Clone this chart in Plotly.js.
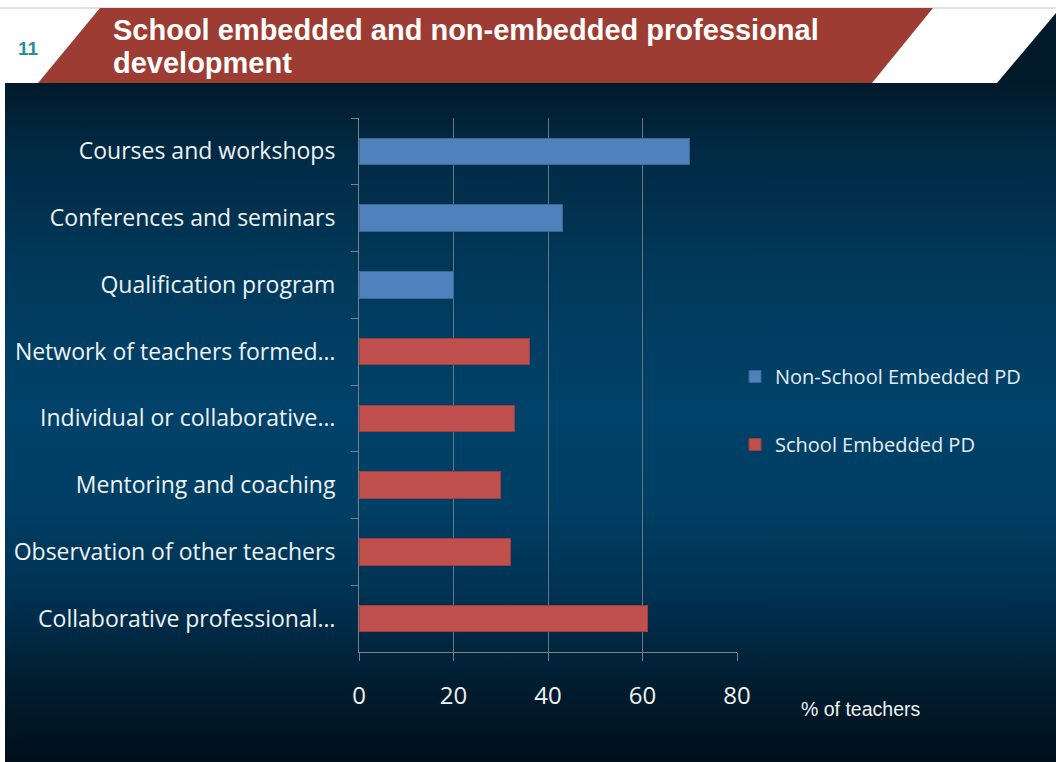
<!DOCTYPE html>
<html><head><meta charset="utf-8">
<script src="https://cdn.plot.ly/plotly-3.0.1.min.js"></script>
<style>
html,body{margin:0;padding:0;background:#ffffff;}
#wrap{position:relative;width:1056px;height:762px;overflow:hidden;background:#ffffff;}
#bg{position:absolute;left:5px;top:83px;width:1051px;height:679px;
background:linear-gradient(to bottom,#011a2a 0%,#012a44 10%,#003a5c 30%,#01426a 48%,#003f64 62%,#003151 76%,#011e31 88%,#010f1a 100%);}
#tri{position:absolute;left:997px;top:13px;width:59px;height:70px;background:#011a2a;clip-path:polygon(0 100%,100% 0,100% 100%);}
#chart{position:absolute;left:0;top:0;width:1056px;height:762px;}
</style></head>
<body><div id="wrap"><div id="bg"></div><div id="tri"></div><div id="chart"></div></div>
<script>
const categories = [
  "Courses and workshops",
  "Conferences and seminars",
  "Qualification program",
  "Network of teachers formed…",
  "Individual or collaborative…",
  "Mentoring and coaching",
  "Observation of other teachers",
  "Collaborative professional…"
];
const nonSchoolValues = [70, 43, 20, null, null, null, null, null];
const schoolValues = [null, null, null, 36, 33, 30, 32, 61];
const seriesNames = ["Non-School Embedded PD", "School Embedded PD"];
const xTicks = [0, 20, 40, 60, 80];
const titleLines = ["School embedded and non-embedded professional", "development"];

const W = 1056, H = 762;
const px = x => x / W, py = y => 1 - y / H;
const labelFont = "'Open Sans', 'Noto Sans', sans-serif";
const titleFont = {family: "Arial, 'Liberation Sans', sans-serif", size: 29, color: "#ffffff"};

const traces = [
  {type: "bar", orientation: "h", name: seriesNames[0], y: categories, x: nonSchoolValues,
   marker: {color: "#4f81bd", line: {color: "#3d6796", width: 1}}, legendgroup: "a", hoverinfo: "x+y"},
  {type: "bar", orientation: "h", name: seriesNames[1], y: categories, x: schoolValues,
   marker: {color: "#c0504d", line: {color: "#9c3e3c", width: 1}}, legendgroup: "b", hoverinfo: "x+y"}
];

const layout = {
  width: W, height: H,
  margin: {l: 0, r: 0, t: 0, b: 0},
  paper_bgcolor: "rgba(0,0,0,0)", plot_bgcolor: "rgba(0,0,0,0)",
  barmode: "stack", bargap: 0.6,
  showlegend: true,
  legend: {x: px(735), y: py(357), xanchor: "left", yanchor: "top", traceorder: "grouped",
    tracegroupgap: 39, font: {family: labelFont, size: 20, color: "#e6edf2"}, bgcolor: "rgba(0,0,0,0)"},
  xaxis: {domain: [px(359), px(737)], range: [0, 80], tickvals: xTicks, ticktext: xTicks.map(String),
    showgrid: true, gridcolor: "#6a757d", gridwidth: 1, zeroline: false,
    showline: true, linecolor: "#76818a", linewidth: 1,
    ticks: "outside", ticklen: 8, tickcolor: "#76818a",
    tickfont: {family: labelFont, size: 24, color: "#eef2f5"}, ticklabelstandoff: 14, automargin: false, fixedrange: true},
  yaxis: {domain: [py(652), py(118)], autorange: "reversed", type: "category",
    showgrid: false, zeroline: false, showline: true, linecolor: "#76818a", linewidth: 1,
    ticks: "outside", ticklen: 7, tickcolor: "#76818a", tickson: "boundaries",
    tickfont: {family: labelFont, size: 23, color: "#eef2f5"}, ticklabelstandoff: 18, automargin: false, fixedrange: true},
  shapes: [
    {type: "line", xref: "paper", yref: "paper", x0: 0, x1: 1, y0: py(8), y1: py(8), line: {color: "#c9c2c2", width: 1}},
    {type: "path", xref: "paper", yref: "paper",
     path: `M ${px(38)} ${py(83)} L ${px(100)} ${py(8)} L ${px(933)} ${py(8)} L ${px(872)} ${py(83)} Z`,
     fillcolor: "#9c3c33", line: {width: 0}}
  ],
  annotations: [
    {xref: "paper", yref: "paper", x: px(111), y: py(30), xanchor: "left", yanchor: "middle", align: "left",
     showarrow: false, text: "<b>" + titleLines[0] + "</b>", font: titleFont},
    {xref: "paper", yref: "paper", x: px(111), y: py(63), xanchor: "left", yanchor: "middle", align: "left",
     showarrow: false, text: "<b>" + titleLines[1] + "</b>", font: titleFont},
    {xref: "paper", yref: "paper", x: px(28), y: py(48), xanchor: "center", yanchor: "middle",
     showarrow: false, text: "<b>11</b>", font: {family: "Arial, 'Liberation Sans', sans-serif", size: 19, color: "#2a8c9c"}},
    {xref: "paper", yref: "paper", x: px(799), y: py(709), xanchor: "left", yanchor: "middle",
     showarrow: false, text: "% of teachers", font: {family: "Arial, 'Liberation Sans', sans-serif", size: 19.5, color: "#eef2f5"}}
  ]
};

Plotly.newPlot("chart", traces, layout, {displayModeBar: false, staticPlot: true});
</script></body></html>
